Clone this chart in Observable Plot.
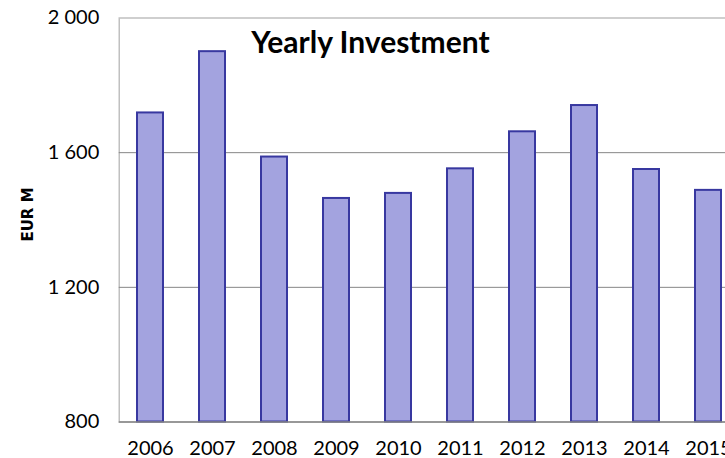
<!DOCTYPE html>
<html><head><meta charset="utf-8">
<script src="https://cdn.jsdelivr.net/npm/d3@7"></script>
<script src="https://cdn.jsdelivr.net/npm/@observablehq/plot@0.6"></script>
<style>html,body{margin:0;padding:0;overflow:hidden;background:#fff;width:725px;height:458px}
#chart svg{max-width:none !important;width:745px !important;height:458px !important}</style>
</head><body><div id="chart"></div>
<script>
const years = ["2006","2007","2008","2009","2010","2011","2012","2013","2014","2015"];
const investment = [1718, 1900, 1587, 1464, 1479, 1552, 1662, 1740, 1550, 1488];
const yTicks = [800, 1200, 1600, 2000];
const yTickLabels = ["800", "1 200", "1 600", "2 000"];
const gridValues = [1200, 1600];
const yMin = 800;
const yMax = 2000;
const title = "Yearly Investment";
const yLabel = "EUR M";

const data = years.map((year, i) => ({year, value: investment[i]}));

const chart = Plot.plot({
  width: 745, height: 458,
  marginLeft: 118.75, marginRight: 5.25, marginTop: 17.5, marginBottom: 36.5,
  style: {fontFamily: "Lato, 'Open Sans', sans-serif", fontSize: "20px", color: "#000", background: "#fff"},
  x: {domain: years, paddingInner: 0.58, paddingOuter: 0.29, label: null, axis: null},
  y: {domain: [yMin, yMax], label: null, axis: null},
  marks: [
    Plot.frame({stroke: "#c0c0c0", strokeWidth: 1.5}),
    Plot.ruleY(gridValues, {stroke: "#868686", strokeWidth: 1}),
    Plot.barY(data, {x: "year", y1: yMin, y2: "value", fill: "#a3a3df", stroke: "#3838a0", strokeWidth: 2}),
    Plot.ruleY([yMin], {stroke: "#868686", strokeWidth: 1.5}),
    Plot.axisX({tickSize: 0, tickPadding: 19, fontSize: 20, label: null}),
    Plot.axisY({ticks: yTicks, tickSize: 0, tickPadding: 20, fontSize: 20, label: null,
      tickFormat: d => yTickLabels[yTicks.indexOf(d)]}),
    Plot.text([title], {text: d => d, frameAnchor: "top-left", dx: 132, dy: 14, lineAnchor: "top", textAnchor: "start", fontWeight: "bold", fontSize: 30}),
    Plot.text([yLabel], {text: d => d, frameAnchor: "left", rotate: -90, dx: -91, dy: -5.5, textAnchor: "middle", lineAnchor: "middle", fontWeight: "bold", fontSize: 15, fontFamily: "'DejaVu Sans', sans-serif"})
  ]
});
document.getElementById("chart").appendChild(chart);
</script>
</body></html>
